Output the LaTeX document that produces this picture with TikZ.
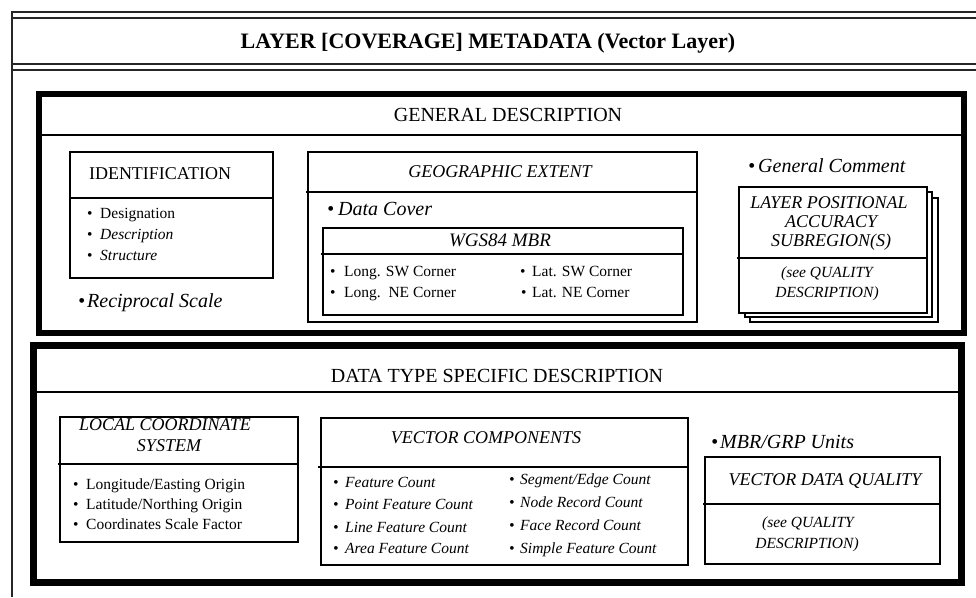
\documentclass[tikz,border=0pt]{standalone}
\usepackage{fontspec}
\setmainfont{Liberation Serif}
\newcommand\bulitem[2]{\makebox[#1][l]{\textbullet}#2}
\begin{document}
\begin{tikzpicture}[x=1pt,y=-1pt,
  frame/.style={line width=2pt, draw=black!85},
  bigbox/.style={draw, line width=6.5pt},
  box/.style={draw, line width=1.5pt},
  sep/.style={line width=1.5pt},
  lbl/.style={inner sep=0pt, anchor=base west},
  clbl/.style={inner sep=0pt, anchor=base},
  hdr/.style={font=\fontsize{20}{24}\selectfont},
  ttl/.style={font=\itshape\fontsize{18}{22}\selectfont},
  itm/.style={font=\fontsize{15.5}{18}\selectfont},
  itmit/.style={font=\itshape\fontsize{15.5}{18}\selectfont},
  bigit/.style={font=\itshape\fontsize{20}{24}\selectfont}]
\useasboundingbox (0,0) rectangle (976,597);
\fill[white] (0,0) rectangle (976,597);

% outer frame with double rules
\draw[frame] (11,12) -- (976,12);
\draw[frame] (11,18) -- (976,18);
\draw[frame] (11,63.5) -- (976,63.5);
\draw[frame] (11,70) -- (976,70);
\draw[frame] (12,11) -- (12,597);
\node[clbl, font=\bfseries\fontsize{22}{26}\selectfont] (title) at (488,48) {LAYER [COVERAGE] METADATA (Vector Layer)};

% ---- general description ----
\draw[bigbox] (39,94) rectangle (964,333);
\draw[sep] (42,135) -- (961,135);
\node[clbl, hdr] (gendesc) at (508,121) {GENERAL DESCRIPTION};

% identification
\draw[box] (70,152) rectangle (273,278);
\draw[sep] (70,198) -- (273,198);
\node[clbl, font=\fontsize{18}{22}\selectfont] (ident) at (160,179) {IDENTIFICATION};
\node[lbl, itm] (desig) at (87,218) {\bulitem{13pt}{Designation}};
\node[lbl, itm] (descr) at (87,239) {\bulitem{13pt}{\itshape Description}};
\node[lbl, itm] (struct) at (87,260) {\bulitem{13pt}{\itshape Structure}};
\node[lbl, bigit] (recip) at (78,307) {\bulitem{9pt}{Reciprocal Scale}};

% geographic extent
\draw[box] (308,152) rectangle (697,322);
\draw[sep] (306,192) -- (697,192);
\node[clbl, ttl] (geo) at (500,177) {GEOGRAPHIC EXTENT};
\node[lbl, bigit] (cover) at (327,215) {\bulitem{11pt}{Data Cover}};
\draw[box] (323,228) rectangle (683,315);
\draw[sep] (321,254) -- (683,254);
\node[clbl, font=\itshape\fontsize{19}{22}\selectfont] (mbr) at (500,246) {WGS84 MBR};
\node[lbl, itm] (longsw) at (330,276) {\bulitem{14pt}{Long. SW Corner}};
\node[lbl, itm] (longne) at (330,297) {\bulitem{14pt}{Long.\ \ NE Corner}};
\node[lbl, itm] (latsw) at (520,276) {\bulitem{12pt}{Lat. SW Corner}};
\node[lbl, itm] (latne) at (521,297) {\bulitem{11pt}{Lat. NE Corner}};

% layer positional accuracy (stacked sheets)
\node[lbl, bigit] (comment) at (748,172) {\bulitem{10pt}{General Comment}};
\filldraw[box, fill=white] (750,198) rectangle (938,322);
\filldraw[box, fill=white] (745,192) rectangle (932,317);
\filldraw[box, fill=white] (739,187) rectangle (927,313);
\draw[sep] (737,258) -- (927,258);
\node[clbl, ttl] (lpa1) at (829,208) {LAYER POSITIONAL};
\node[clbl, ttl] (lpa2) at (831,227) {ACCURACY};
\node[clbl, ttl] (lpa3) at (831,246) {SUBREGION(S)};
\node[clbl, itmit] (lpaq1) at (827,277) {(see QUALITY};
\node[clbl, itmit] (lpaq2) at (827,297) {DESCRIPTION)};

% ---- data type specific description ----
\draw[bigbox, line width=7pt] (33.5,345) rectangle (961.5,582.5);
\draw[sep] (37,392) -- (958,392);
\node[clbl, hdr] (dtdesc) at (497,382) {DATA TYPE SPECIFIC DESCRIPTION};

% local coordinate system
\draw[box] (60,417) rectangle (298,542);
\draw[sep] (58,464) -- (298,464);
\node[clbl, ttl] (lcs1) at (165,430) {LOCAL COORDINATE};
\node[clbl, ttl] (lcs2) at (169,451) {SYSTEM};
\node[lbl, itm] (lon) at (73,489) {\bulitem{13pt}{Longitude/Easting Origin}};
\node[lbl, itm] (lat) at (73,509) {\bulitem{13pt}{Latitude/Northing Origin}};
\node[lbl, itm] (csf) at (73,529) {\bulitem{13pt}{Coordinates Scale Factor}};

% vector components
\draw[box] (321,418) rectangle (688,565);
\draw[sep] (318,467) -- (688,467);
\node[clbl, ttl] (vc) at (486,443) {VECTOR COMPONENTS};
\node[lbl, itmit] (fc) at (333,487) {\bulitem{12pt}{Feature Count}};
\node[lbl, itmit] (pfc) at (333,509) {\bulitem{12pt}{Point Feature Count}};
\node[lbl, itmit] (lfc) at (333,532) {\bulitem{12pt}{Line Feature Count}};
\node[lbl, itmit] (afc) at (333,553) {\bulitem{12pt}{Area Feature Count}};
\node[lbl, itmit] (sec) at (509,484) {\bulitem{11pt}{Segment/Edge Count}};
\node[lbl, itmit] (nrc) at (509,507) {\bulitem{11pt}{Node Record Count}};
\node[lbl, itmit] (frc) at (509,530) {\bulitem{11pt}{Face Record Count}};
\node[lbl, itmit] (sfc) at (509,553) {\bulitem{11pt}{Simple Feature Count}};

% vector data quality
\node[lbl, bigit] (units) at (711,448) {\bulitem{9pt}{MBR/GRP Units}};
\draw[box] (705,457) rectangle (940,564);
\draw[sep] (703,504) -- (940,504);
\node[clbl, ttl] (vdq) at (825,485) {VECTOR DATA QUALITY};
\node[clbl, itmit] (vdqq1) at (808,527) {(see QUALITY};
\node[clbl, itmit] (vdqq2) at (807,548) {DESCRIPTION)};
\end{tikzpicture}
\end{document}
